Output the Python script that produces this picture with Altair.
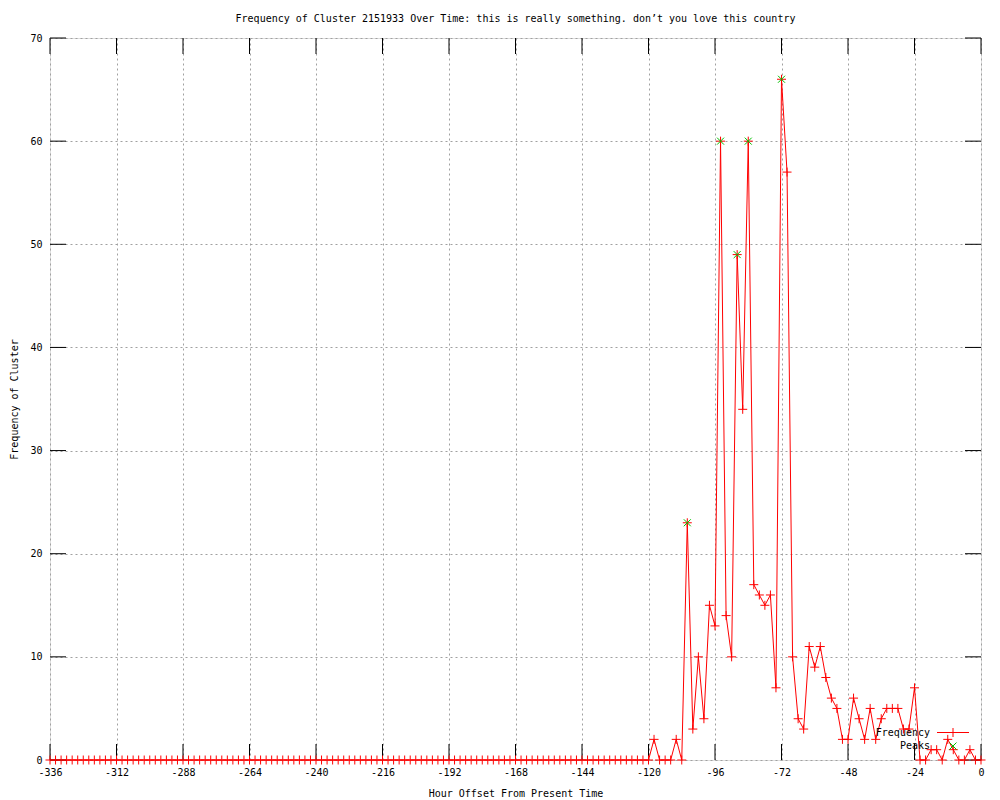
import altair as alt
import pandas as pd

# hours before present, every 2 hours from -336 to 0
hours = list(range(-336, 1, 2))

freq_early = [
    0, 0, 0, 0, 0, 0, 0, 0, 0, 0, 0, 0, 0, 0, 0, 0, 0, 0, 0, 0,
    0, 0, 0, 0, 0, 0, 0, 0, 0, 0, 0, 0, 0, 0, 0, 0, 0, 0, 0, 0,
    0, 0, 0, 0, 0, 0, 0, 0, 0, 0, 0, 0, 0, 0, 0, 0, 0, 0, 0, 0,
    0, 0, 0, 0, 0, 0, 0, 0, 0, 0, 0, 0, 0, 0, 0, 0, 0, 0, 0, 0,
    0, 0, 0, 0, 0, 0, 0, 0, 0, 0, 0, 0, 0, 0, 0, 0, 0, 0, 0, 0,
    0, 0, 0, 0, 0, 0, 0, 0, 0,
]  # -336 .. -120
freq_late = [
    2, 0, 0, 0, 2, 0, 23, 3, 10, 4,       # -118 .. -100
    15, 13, 60, 14, 10, 49, 34, 60, 17, 16,  # -98 .. -80
    15, 16, 7, 66, 57, 10, 4, 3, 11, 9,    # -78 .. -60
    11, 8, 6, 5, 2, 2, 6, 4, 2, 5,         # -58 .. -40
    2, 4, 5, 5, 5, 3, 3, 7, 0, 0,          # -38 .. -20
    1, 1, 0, 2, 1, 0, 0, 1, 0, 0,          # -18 .. 0
]
frequency = freq_early + freq_late

peak_hours = [-106, -94, -88, -84, -72]
peak_values = [23, 60, 49, 60, 66]

x_ticks = [-336, -312, -288, -264, -240, -216, -192, -168, -144, -120, -96, -72, -48, -24, 0]
y_ticks = [0, 10, 20, 30, 40, 50, 60, 70]

title_text = "Frequency of Cluster 2151933 Over Time: this is really something. don\u2019t you love this country"
legend_labels = ["Frequency", "Peaks"]

W, H = 931, 722
FONT = "DejaVu Sans Mono"
RED = "#ff0000"
GREEN = "#00c000"
PLUS = "M-1,0L1,0M0,-1L0,1"
XMARK = "M-1,-1L1,1M-1,1L1,-1"

df = pd.DataFrame({"hour": hours, "freq": frequency})
peaks = pd.DataFrame({"hour": peak_hours, "freq": peak_values})
xt = pd.DataFrame({"t": x_ticks})
yt = pd.DataFrame({"t": y_ticks})

xscale = alt.Scale(domain=[-336, 0], nice=False, zero=False)
yscale = alt.Scale(domain=[0, 70], nice=False)

xaxis = alt.Axis(
    values=x_ticks, title="Hour Offset From Present Time", grid=True,
    gridDash=[2, 3], gridColor="#a0a0a0", ticks=False, domain=False,
    labelExpr="'' + datum.value", labelFont=FONT, labelFontSize=10,
    labelColor="black", labelPadding=7, titleFont=FONT, titleFontSize=10,
    titleFontWeight="normal", titleColor="black", titlePadding=11,
    labelFlush=False, labelOverlap=False,
)
yaxis = alt.Axis(
    values=y_ticks, title="Frequency of Cluster", grid=True,
    gridDash=[2, 3], gridColor="#a0a0a0", ticks=False, domain=False,
    labelFont=FONT, labelFontSize=10, labelColor="black", labelPadding=8,
    titleFont=FONT, titleFontSize=10, titleFontWeight="normal",
    titleColor="black", titlePadding=10, labelFlush=False,
)

base = alt.Chart(df)

line = base.mark_line(color=RED, strokeWidth=1, clip=False).encode(
    x=alt.X("hour:Q", scale=xscale, axis=xaxis),
    y=alt.Y("freq:Q", scale=yscale, axis=yaxis),
)
pts = base.mark_point(shape=PLUS, size=81, filled=False, color=RED,
                      strokeWidth=1, opacity=1).encode(
    x=alt.X("hour:Q", scale=xscale),
    y=alt.Y("freq:Q", scale=yscale),
)
peak_pts = alt.Chart(peaks).mark_point(shape=XMARK, size=49, filled=False,
                                       color=GREEN, strokeWidth=1, opacity=1).encode(
    x=alt.X("hour:Q", scale=xscale),
    y=alt.Y("freq:Q", scale=yscale),
)

TL = 16
xt_bot = alt.Chart(xt).mark_rule(color="black", strokeWidth=1).encode(
    x=alt.X("t:Q", scale=xscale), y=alt.value(H), y2=alt.value(H - TL))
xt_top = alt.Chart(xt).mark_rule(color="black", strokeWidth=1).encode(
    x=alt.X("t:Q", scale=xscale), y=alt.value(0), y2=alt.value(TL))
yt_left = alt.Chart(yt).mark_rule(color="black", strokeWidth=1).encode(
    y=alt.Y("t:Q", scale=yscale), x=alt.value(0), x2=alt.value(TL))
yt_right = alt.Chart(yt).mark_rule(color="black", strokeWidth=1).encode(
    y=alt.Y("t:Q", scale=yscale), x=alt.value(W), x2=alt.value(W - TL))

leg_freq = alt.Chart(pd.DataFrame({"label": [legend_labels[0]]})).mark_text(
    font=FONT, fontSize=10, align="right", baseline="middle", color="black"
).encode(text="label:N", x=alt.value(880), y=alt.value(694.5))
leg_peaks = alt.Chart(pd.DataFrame({"label": [legend_labels[1]]})).mark_text(
    font=FONT, fontSize=10, align="right", baseline="middle", color="black"
).encode(text="label:N", x=alt.value(880), y=alt.value(708))
leg_line = alt.Chart(pd.DataFrame({"label": [legend_labels[0]]})).mark_rule(
    color=RED, strokeWidth=1
).encode(x=alt.value(887), x2=alt.value(919), y=alt.value(694.5))
leg_plus = alt.Chart(pd.DataFrame({"label": [legend_labels[0]]})).mark_point(
    shape=PLUS, size=81, filled=False, color=RED, strokeWidth=1, opacity=1
).encode(x=alt.value(903), y=alt.value(694.5))
leg_x = alt.Chart(pd.DataFrame({"label": [legend_labels[1]]})).mark_point(
    shape=XMARK, size=49, filled=False, color=GREEN, strokeWidth=1, opacity=1
).encode(x=alt.value(903), y=alt.value(708))

chart = alt.layer(
    line, xt_bot, xt_top, yt_left, yt_right, pts, peak_pts,
    leg_freq, leg_peaks, leg_line, leg_plus, leg_x,
).properties(
    width=W, height=H,
    title=alt.TitleParams(title_text, font=FONT, fontSize=10, fontWeight="normal",
                          color="black", anchor="middle", baseline="alphabetic",
                          offset=16, dy=15),
    autosize=alt.AutoSizeParams(type="none"),
    padding={"left": 42, "top": 30, "right": 10, "bottom": 40},
).configure_view(
    stroke="black", strokeWidth=1
).configure(background="white")

chart.save("out.html", embed_options={"renderer": "svg", "actions": False})
